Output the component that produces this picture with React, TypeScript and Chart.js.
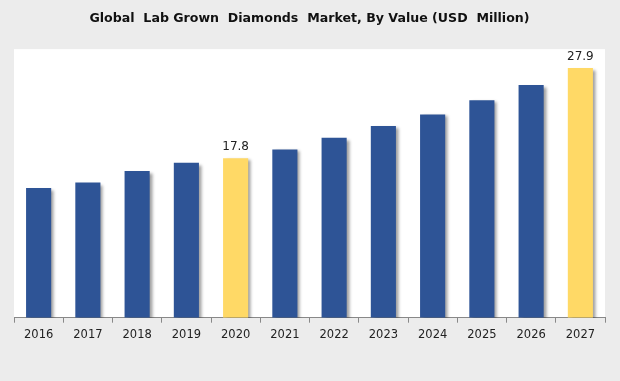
import React, { useEffect, useRef } from "react";
import { Chart, registerables } from "chart.js";

Chart.register(...registerables);

const years = ["2016", "2017", "2018", "2019", "2020", "2021", "2022", "2023", "2024", "2025", "2026", "2027"];
const values = [14.5, 15.1, 16.4, 17.3, 17.8, 18.8, 20.1, 21.4, 22.7, 24.3, 26.0, 27.9];
const highlighted = ["2020", "2027"];
const titleText = "Global  Lab Grown  Diamonds  Market, By Value (USD  Million)";

const BLUE = "#2E5496";
const YELLOW = "#FFD966";

const bgPlugin = {
  id: "plotBg",
  beforeDraw(chart: any) {
    const { ctx, chartArea, width, height } = chart;
    ctx.save();
    ctx.fillStyle = "#ececec";
    ctx.fillRect(0, 0, width, height);
    ctx.fillStyle = "#ffffff";
    ctx.fillRect(chartArea.left, chartArea.top, chartArea.right - chartArea.left, chartArea.bottom - chartArea.top);
    ctx.restore();
  },
};

const shadowPlugin = {
  id: "barShadow",
  beforeDatasetsDraw(chart: any) {
    const ctx = chart.ctx;
    ctx.save();
    ctx.shadowColor = "rgba(0,0,0,0.38)";
    ctx.shadowOffsetX = 3;
    ctx.shadowOffsetY = 2;
    ctx.shadowBlur = 3;
  },
  afterDatasetsDraw(chart: any) {
    chart.ctx.restore();
  },
};

const labelPlugin = {
  id: "valueLabels",
  afterDraw(chart: any) {
    const ctx = chart.ctx;
    const meta = chart.getDatasetMeta(0);
    ctx.save();
    ctx.font = "12px 'DejaVu Sans', sans-serif";
    ctx.fillStyle = "#222222";
    ctx.textAlign = "center";
    ctx.textBaseline = "bottom";
    meta.data.forEach((bar: any, i: number) => {
      if (highlighted.includes(years[i])) {
        ctx.fillText(values[i].toFixed(1), bar.x, bar.y - 5);
      }
    });
    ctx.restore();
  },
};

export default function App() {
  const ref = useRef<HTMLCanvasElement>(null);
  useEffect(() => {
    if (!ref.current) return;
    const chart = new Chart(ref.current, {
      type: "bar",
      data: {
        labels: years,
        datasets: [
          {
            data: values,
            backgroundColor: years.map((y) => (highlighted.includes(y) ? YELLOW : BLUE)),
            borderWidth: 0,
            categoryPercentage: 1,
            barPercentage: 0.51,
          },
        ],
      },
      options: {
        animation: false,
        responsive: false,
        maintainAspectRatio: false,
        layout: { padding: { left: 14, right: 15, top: 0, bottom: 34.5 } },
        plugins: {
          legend: { display: false },
          tooltip: { enabled: false },
          title: {
            display: true,
            text: titleText,
            color: "#111111",
            font: { family: "'DejaVu Sans', sans-serif", size: 12.6, weight: "bold" },
            padding: { top: 11, bottom: 23 },
          },
        },
        scales: {
          y: { display: false, min: 0, max: 30 },
          x: {
            offset: true,
            grid: {
              display: true,
              drawOnChartArea: false,
              drawTicks: true,
              tickLength: 5,
              color: "#888888",
              offset: true,
            },
            border: { display: true, color: "#888888", width: 1 },
            ticks: {
              color: "#222222",
              padding: 5,
              maxRotation: 0,
              font: { family: "'DejaVu Sans', sans-serif", size: 11.5 },
            },
          },
        },
      },
      plugins: [bgPlugin, shadowPlugin, labelPlugin],
    });
    return () => chart.destroy();
  }, []);
  return (
    <div style={{ position: "fixed", left: 0, top: 0, width: 620, height: 381, background: "#ececec" }}>
      <canvas ref={ref} width={620} height={381} style={{ display: "block", width: 620, height: 381 }} />
    </div>
  );
}
